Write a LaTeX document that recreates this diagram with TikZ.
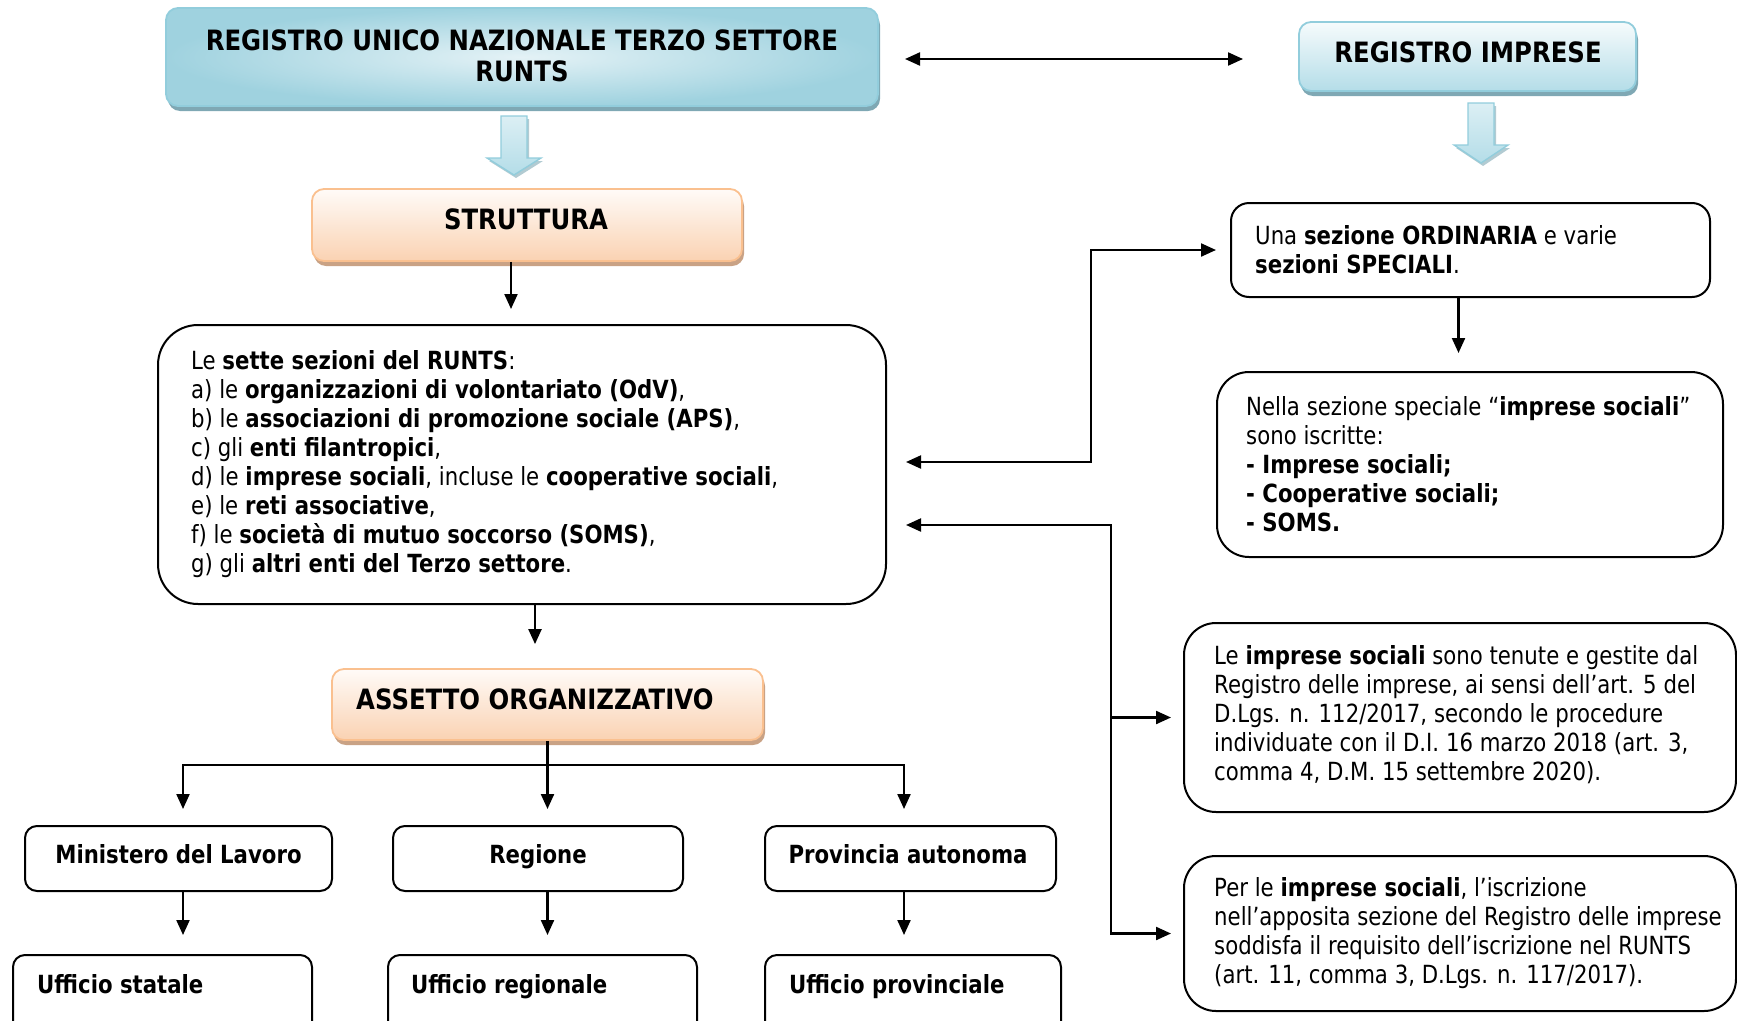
\documentclass[tikz,border=0pt]{standalone}
\usepackage{fontspec}
\setmainfont[FakeStretch=0.85]{DejaVu Sans}
\newfontfamily\ttlfont[FakeStretch=0.87]{DejaVu Sans}
\usetikzlibrary{arrows.meta,shadows,calc}
\definecolor{bluebd}{HTML}{92CDDC}
\definecolor{bluein}{HTML}{E4F2F6}
\definecolor{blueout}{HTML}{9FD2DF}
\definecolor{bluetop}{HTML}{F6FBFC}
\definecolor{bluebot}{HTML}{B4DDE8}
\definecolor{bluesh}{HTML}{7FA8B4}
\definecolor{orbd}{HTML}{FAC08F}
\definecolor{ortop}{HTML}{FFFBF8}
\definecolor{orbot}{HTML}{FAD2B2}
\definecolor{orsh}{HTML}{C9A285}
\begin{document}
\begin{tikzpicture}[x=1pt,y=-1pt,
  box/.style={draw=black, line width=2pt, rounded corners=12pt, inner sep=0pt, fill=white},
  bigbox/.style={box, rounded corners=40pt},
  midbox/.style={box, rounded corners=32pt},
  bluebox/.style={draw=bluebd, line width=1.8pt, rounded corners=12pt, inner sep=0pt,
     drop shadow={shadow xshift=2pt, shadow yshift=-5pt, fill=bluesh, opacity=1}},
  orbox/.style={draw=orbd, line width=1.8pt, rounded corners=12pt, inner sep=0pt,
     top color=ortop, bottom color=orbot,
     drop shadow={shadow xshift=2pt, shadow yshift=-5pt, fill=orsh, opacity=1}},
  txt/.style={inner sep=0pt, align=left, anchor=west, font=\fontsize{25}{29}\selectfont},
  ttl/.style={inner sep=0pt, align=center, font=\fontsize{28}{31}\selectfont\ttlfont\bfseries},
  lbl/.style={inner sep=0pt, anchor=base, font=\fontsize{25}{29}\selectfont\bfseries},
  line/.style={line width=2.2pt},
  arr/.style={line width=2.2pt, -{Triangle[length=15pt,width=13pt]}},
  dbl/.style={line width=2.2pt, {Triangle[length=15pt,width=13pt]}-{Triangle[length=15pt,width=13pt]}},
  barrow/.style={draw=bluebd, line width=1.4pt, top color=bluetop!60!bluebot, bottom color=bluebot,
     drop shadow={shadow xshift=2pt, shadow yshift=-3pt, fill=bluesh!60, opacity=1}}
]
\useasboundingbox (0,0) rectangle (1737,1020);
\clip (0,0) rectangle (1737,1020);

% title boxes
\node[bluebox, inner color=bluein, outer color=blueout, minimum width=712pt, minimum height=98pt] (runts) at (522,57) {};
\node[ttl] (runts-t) at (522,55.5) {REGISTRO UNICO NAZIONALE TERZO SETTORE\\RUNTS};
\node[bluebox, top color=bluetop, bottom color=bluebot, minimum width=337pt, minimum height=69pt] (ri) at (1467.5,56.5) {};
\node[ttl] (ri-t) at (1468,52) {REGISTRO IMPRESE};

% block arrows
\path[barrow] (501,116) -- (527,116) -- (527,158) -- (541,158) -- (514,175) -- (487,158) -- (501,158) -- cycle;
\path[barrow] (1468,103) -- (1494,103) -- (1494,145) -- (1508,145) -- (1481,163) -- (1454,145) -- (1468,145) -- cycle;

% orange boxes
\node[orbox, minimum width=430pt, minimum height=72pt] (strut) at (527,225) {};
\node[ttl] (strut-t) at (526,219) {STRUTTURA};
\node[orbox, minimum width=431pt, minimum height=71pt] (assetto) at (547.5,704.5) {};
\node[ttl, anchor=west] (assetto-t) at (356,699) {ASSETTO ORGANIZZATIVO};

% sette sezioni
\node[bigbox, minimum width=728pt, minimum height=279pt] (sette) at (522,464.5) {};
\node[txt] (sette-t) at (191,464) {Le \textbf{sette sezioni del RUNTS}:\\
a) le \textbf{organizzazioni di volontariato (OdV)},\\
b) le \textbf{associazioni di promozione sociale (APS)},\\
c) gli \textbf{enti filantropici},\\
d) le \textbf{imprese sociali}, incluse le \textbf{cooperative sociali},\\
e) le \textbf{reti associative},\\
f) le \textbf{società di mutuo soccorso (SOMS)},\\
g) gli \textbf{altri enti del Terzo settore}.};

% row of organs
\node[box, minimum width=307pt, minimum height=65pt] (mini) at (178.5,858.5) {};
\node[lbl] (mini-t) at (178.5,863) {Ministero del Lavoro};
\node[box, minimum width=290pt, minimum height=65pt] (reg) at (538,858.5) {};
\node[lbl] (reg-t) at (538,863) {Regione};
\node[box, minimum width=291pt, minimum height=65pt] (prov) at (910.5,858.5) {};
\node[lbl] (prov-t) at (908,863) {Provincia autonoma};

\node[box, minimum width=299pt, minimum height=80pt] (uff1) at (162.5,995) {};
\node[lbl, anchor=base west] (uff1-t) at (37,993) {Ufficio statale};
\node[box, minimum width=309pt, minimum height=80pt] (uff2) at (542.5,995) {};
\node[lbl, anchor=base west] (uff2-t) at (411,993) {Ufficio regionale};
\node[box, minimum width=296pt, minimum height=80pt] (uff3) at (913,995) {};
\node[lbl, anchor=base west] (uff3-t) at (789,993) {Ufficio provinciale};

% right column
\node[box, rounded corners=18pt, minimum width=479pt, minimum height=94pt] (ord) at (1470.5,250) {};
\node[txt] (ord-t) at (1255,249.5) {Una \textbf{sezione ORDINARIA} e varie\\\textbf{sezioni SPECIALI}.};
\node[midbox, minimum width=506pt, minimum height=185pt] (nella) at (1470,464.5) {};
\node[txt] (nella-t) at (1246,464.5) {Nella sezione speciale “\textbf{imprese sociali}”\\
sono iscritte:\\
\textbf{- Imprese sociali;}\\
\textbf{- Cooperative sociali;}\\
\textbf{- SOMS.}};
\node[midbox, minimum width=552pt, minimum height=189pt] (leimp) at (1460,717.5) {};
\node[txt] (leimp-t) at (1214,715) {Le \textbf{imprese sociali} sono tenute e gestite dal\\
Registro delle imprese, ai sensi dell’art. 5 del\\
D.Lgs. n. 112/2017, secondo le procedure\\
individuate con il D.I. 16 marzo 2018 (art. 3,\\
comma 4, D.M. 15 settembre 2020).};
\node[midbox, minimum width=552pt, minimum height=155pt] (perle) at (1460,933.5) {};
\node[txt] (perle-t) at (1214,933) {Per le \textbf{imprese sociali}, l’iscrizione\\
nell’apposita sezione del Registro delle imprese\\
soddisfa il requisito dell’iscrizione nel RUNTS\\
(art. 11, comma 3, D.Lgs. n. 117/2017).};

% connectors
\coordinate (dl) at (905,59);
\coordinate (dr) at (1243,59);
\draw[dbl] (dl) -- (dr);

\coordinate (s1) at ([xshift=-16pt]strut.south);
\draw[arr, shorten >=15pt] (s1) -- (s1 |- sette.north);
\coordinate (s2) at ([xshift=13pt]sette.south);
\draw[arr, shorten >=24pt] (s2) -- (s2 |- assetto.north);

\coordinate (bus) at (547.5,765);
\coordinate (b1) at (183,765);
\coordinate (b3) at (904,765);
\draw[line] (assetto.south) -- (bus);
\draw[line, line cap=rect] (b1) -- (b3);
\draw[arr, shorten >=16pt] (b1) -- (b1 |- mini.north);
\draw[arr, shorten >=16pt] (bus) -- (bus |- reg.north);
\draw[arr, shorten >=16pt] (b3) -- (b3 |- prov.north);
\draw[arr, shorten >=19pt] (b1 |- mini.south) -- (b1 |- uff1.north);
\draw[arr, shorten >=19pt] (bus |- reg.south) -- (bus |- uff2.north);
\draw[arr, shorten >=19pt] (b3 |- prov.south) -- (b3 |- uff3.north);

\coordinate (k1) at (1091,462);
\draw[dbl, shorten <=19pt, shorten >=14pt] (k1 -| sette.east) -- (k1) |- (ord.west);
\coordinate (k3) at ([xshift=-12pt]ord.south);
\draw[arr, shorten >=18pt] (k3) -- (k3 |- nella.north);
\coordinate (k2) at (1111,525);
\draw[dbl, shorten <=19pt, shorten >=12pt] (k2 -| sette.east) -- (k2) |- (perle.west);
\draw[arr, shorten >=12pt] (k2 |- leimp.west) -- (leimp.west);
\end{tikzpicture}
\end{document}
